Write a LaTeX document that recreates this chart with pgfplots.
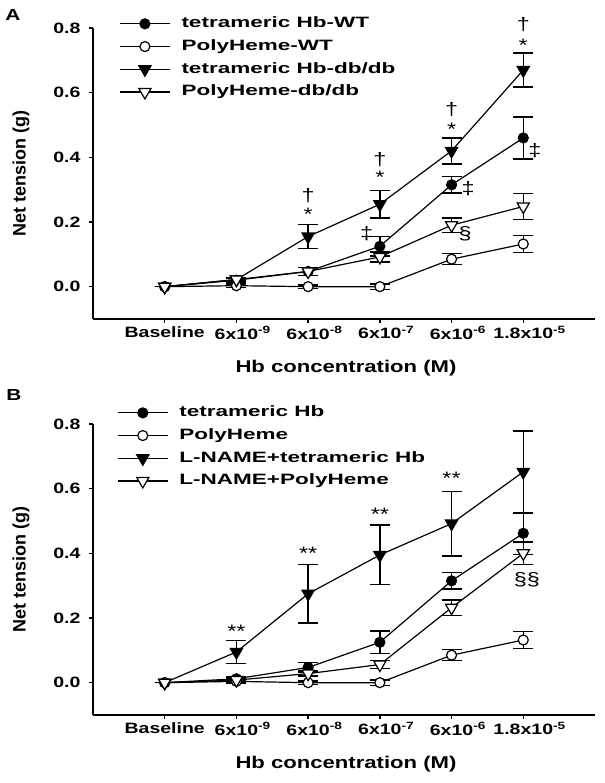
\documentclass[border=0pt]{standalone}
\usepackage{fontspec}
\setmainfont{Liberation Sans}[FakeStretch=1.3]
\newfontfamily\legfont{Liberation Sans}[FakeStretch=1.5]
\newfontfamily\plainfont{Liberation Sans}
\newfontfamily\annfont{Liberation Sans}[FakeStretch=1.3]
\usepackage{pgfplots}
\pgfplotsset{compat=1.18}

\pgfplotstableread{
x y e
0 0 0
1 0.02 0.005
2 0.047 0.012
3 0.125 0.03
4 0.315 0.025
5 0.46 0.065
}\tetWT
\pgfplotstableread{
x y e
0 0 0
1 0.003 0.005
2 0 0.005
3 0 0.008
4 0.085 0.017
5 0.132 0.026
}\polyWT
\pgfplotstableread{
x y e
0 0 0
1 0.022 0.005
2 0.155 0.037
3 0.255 0.043
4 0.42 0.04
5 0.67 0.052
}\tetDB
\pgfplotstableread{
x y e
0 0 0
1 0.022 0.005
2 0.047 0.012
3 0.092 0.015
4 0.19 0.022
5 0.248 0.04
}\polyDB
\pgfplotstableread{
x y e
0 0 0
1 0.012 0.005
2 0.047 0.015
3 0.125 0.035
4 0.315 0.025
5 0.462 0.065
}\tetB
\pgfplotstableread{
x y e
0 0 0
1 0.004 0.005
2 0 0.005
3 0 0.008
4 0.085 0.017
5 0.132 0.026
}\polyB
\pgfplotstableread{
x y e
0 0 0
1 0.095 0.035
2 0.275 0.09
3 0.395 0.092
4 0.492 0.1
5 0.652 0.127
}\lnTet
\pgfplotstableread{
x y e
0 0 0
1 0.008 0.005
2 0.028 0.008
3 0.056 0.012
4 0.232 0.024
5 0.40 0.035
}\lnPoly

\newcommand\sx[1]{\rlap{\textsuperscript{#1}}}
\pgfplotsset{
 panel/.style={
  scale only axis, width=502pt, height=291pt,
  xmin=-1, xmax=6, ymin=-0.1, ymax=0.8,
  axis x line*=bottom, axis y line*=left,
  axis line style={line width=1.8pt, -},
  xtick={0,1,2,3,4,5},
  xticklabels={Baseline, 6x10\sx{-9}, 6x10\sx{-8}, 6x10\sx{-7}, 6x10\sx{-6}, 1.8x10\sx{-5}},
  ytick={0,0.2,0.4,0.6,0.8}, yticklabels={0.0,0.2,0.4,0.6,0.8},
  tick align=outside, major tick length=4pt,
  tick style={line width=1.5pt, black},
  ticklabel style={font=\bfseries\fontsize{15}{15}\selectfont},
  yticklabel style={xshift=-5pt},
  xlabel={Hb concentration (M)}, ylabel={Net tension (g)},
  every axis x label/.style={at={(axis description cs:0.504,-0.168)}, anchor=center, font=\bfseries\fontsize{17}{17}\selectfont},
  every axis y label/.style={at={(axis description cs:-0.1434,0.5)}, rotate=90, anchor=center, font=\plainfont\bfseries\fontsize{18}{18}\selectfont},
  legend style={draw=none, fill=none, font=\legfont\bfseries\fontsize{15}{15}\selectfont, anchor=north west, inner sep=0pt, row sep=8.7pt,
    nodes={inner sep=0pt, text height=11pt, text depth=3pt},
    /tikz/every odd column/.append style={column sep=11pt}},
  legend cell align=left,
  legend image code/.code={\draw[mark repeat=2,mark phase=2,#1] plot coordinates {(0pt,0pt) (25pt,0pt) (50pt,0pt)};},
  clip=false,
  every axis plot/.append style={line width=1.2pt, black},
  error bars/y dir=both, error bars/y explicit,
  error bars/error bar style={line width=1.5pt, black},
  error bars/error mark options={rotate=90, mark size=10pt, line width=1.5pt, black},
 },
 sfill/.style={mark=*, mark size=5pt, mark options={fill=black, solid}},
 sopen/.style={mark=*, mark size=5pt, mark options={fill=white, solid}},
 tfill/.style={mark=triangle*, mark size=7pt, mark options={rotate=180, fill=black, solid}},
 topen/.style={mark=triangle*, mark size=7pt, mark options={rotate=180, fill=white, solid}},
}
\newcommand\ann[3]{\node[font=\annfont\fontsize{18}{18}\selectfont, inner sep=0pt] at (axis cs:#1,#2) {#3};}

\begin{document}
\begin{tikzpicture}
\begin{axis}[panel, at={(0,0)}, legend style={at={(axis description cs:0.052,1.039)}}]
\addplot[sfill] table[x index=0, y index=1, y error index=2] {\tetWT};
\addlegendentry{tetrameric Hb-WT}
\addplot[sopen] table[x index=0, y index=1, y error index=2] {\polyWT};
\addlegendentry{PolyHeme-WT}
\addplot[tfill] table[x index=0, y index=1, y error index=2] {\tetDB};
\addlegendentry{tetrameric Hb-db/db}
\addplot[topen] table[x index=0, y index=1, y error index=2] {\polyDB};
\addlegendentry{PolyHeme-db/db}
\ann{2}{0.224}{*}
\ann{2}{0.282}{†}
\ann{3}{0.337}{*}
\ann{3}{0.392}{†}
\ann{2.815}{0.163}{‡}
\ann{4}{0.488}{*}
\ann{4}{0.548}{†}
\ann{4.23}{0.303}{‡}
\ann{4.19}{0.163}{§}
\ann{5}{0.748}{*}
\ann{5}{0.81}{†}
\ann{5.16}{0.422}{‡}
\end{axis}
\begin{axis}[panel, at={(0,-396pt)}, legend style={at={(axis description cs:0.0478,1.063)}}]
\addplot[sfill] table[x index=0, y index=1, y error index=2] {\tetB};
\addlegendentry{tetrameric Hb}
\addplot[sopen] table[x index=0, y index=1, y error index=2] {\polyB};
\addlegendentry{PolyHeme}
\addplot[tfill] table[x index=0, y index=1, y error index=2] {\lnTet};
\addlegendentry{L-NAME+tetrameric Hb}
\addplot[topen] table[x index=0, y index=1, y error index=2] {\lnPoly};
\addlegendentry{L-NAME+PolyHeme}
\ann{1}{0.159}{**}
\ann{2}{0.399}{**}
\ann{3}{0.521}{**}
\ann{4}{0.632}{**}
\ann{5.05}{0.319}{§§}
\end{axis}
\node[font=\bfseries\fontsize{16}{16}\selectfont] at (-80pt,304pt) {A};
\node[font=\bfseries\fontsize{16}{16}\selectfont] at (-79pt,-76pt) {B};
\pgfresetboundingbox
\path (-93pt,-464pt) rectangle (511pt,319pt);
\end{tikzpicture}
\end{document}
